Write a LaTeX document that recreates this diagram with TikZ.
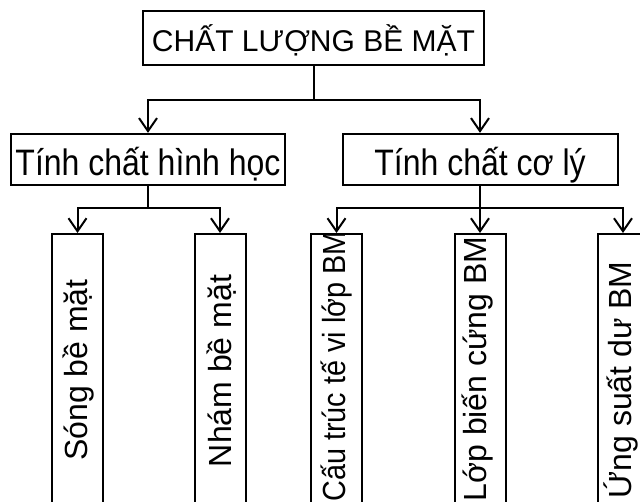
\documentclass[tikz,border=0pt]{standalone}
\usepackage{fontspec}
\setmainfont{Liberation Sans}
\usetikzlibrary{arrows.meta}
\begin{document}
\begin{tikzpicture}[x=1pt,y=-1pt,
  line width=2pt,
  txt/.style={font=\fontsize{32}{38}\selectfont},
  box/.style={draw, inner sep=0pt, txt},
  midbox/.style={box, yscale=1.15, minimum height=44.35pt, text height=30pt, text depth=3pt},
  vbox/.style={draw, minimum width=51pt, minimum height=285pt, anchor=north, inner sep=0pt},
  vtext/.style={rotate=90, anchor=base, inner sep=0pt, txt},
  conn/.style={-{Straight Barb[length=13pt,width=18pt]}}]
\useasboundingbox (0,0) rectangle (640,502);
\clip (0,0) rectangle (640,502);
% top level
\node[box, font=\fontsize{30}{36}\selectfont, minimum width=341pt, minimum height=54pt, text height=30pt, text depth=3pt] (top) at (313.5,38) {CHẤT LƯỢNG BỀ MẶT};
% second level
\node[midbox, minimum width=274pt] (hh) at (148,159.5) {Tính chất hình học};
\node[midbox, minimum width=275pt] (cl) at (480,159.5) {Tính chất cơ lý};
% third level boxes
\node[vbox] (b1) at (77.5,233) {};
\node[vbox] (b2) at (220,233) {};
\node[vbox] (b3) at (336.5,233) {};
\node[vbox] (b4) at (480,233) {};
\node[vbox] (b5) at (623,233) {};
% third level texts
\node[vtext] (t1) at (87,370) {Sóng bề mặt};
\node[vtext] (t2) at (231.7,371) {Nhám bề mặt};
\node[vtext, xscale=0.9] (t3) at (345,366.5) {Cấu trúc tế vi lớp BM};
\node[vtext] (t4) at (486.7,369) {Lớp biến cứng BM};
\node[vtext] (t5) at (631.7,380) {Ứng suất dư BM};
% connectors
\coordinate (j0) at (313.5,100);
\coordinate (j1) at (148,208.5);
\coordinate (j2) at (480,208.5);
\draw (top) -- (j0);
\draw[conn] (j0) -| (hh);
\draw[conn] (j0) -| (cl);
\draw (hh) -- (j1);
\draw[conn] (j1) -| (b1);
\draw[conn] (j1) -| (b2);
\draw (cl) -- (j2);
\draw[conn] (j2) -| (b3);
\draw[conn] (j2) -- (b4);
\draw[conn] (j2) -| (b5);
\end{tikzpicture}
\end{document}
